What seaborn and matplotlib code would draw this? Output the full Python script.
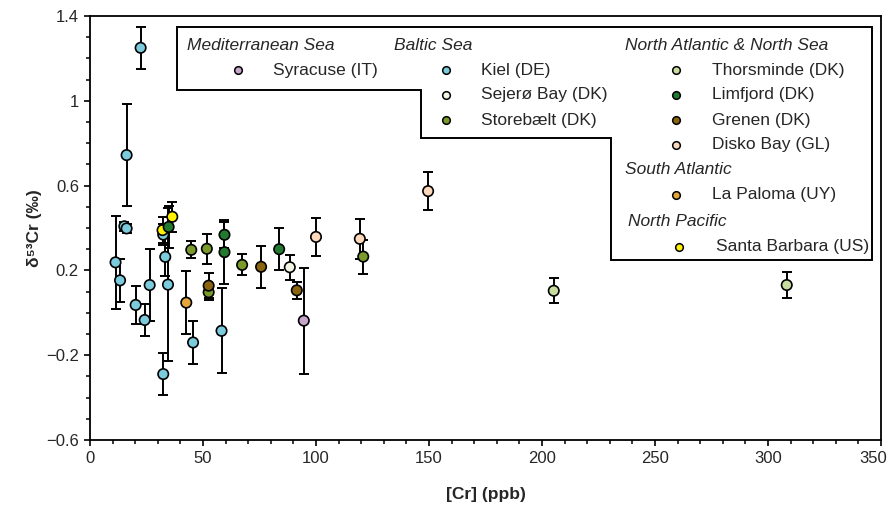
import matplotlib
matplotlib.use("Agg")
import matplotlib.pyplot as plt
from matplotlib.patches import Polygon
from matplotlib.ticker import MultipleLocator, FixedLocator
import matplotlib.transforms as mtransforms
import seaborn as sns
import pandas as pd

# ---------------- data ----------------
site = (["Kiel (DE)"] * 15 + ["Santa Barbara (US)"] * 2 + ["Limfjord (DK)"] * 4 +
        ["La Paloma (UY)"] + ["Storebælt (DK)"] * 5 + ["Grenen (DK)"] * 3 +
        ["Sejerø Bay (DK)"] + ["Syracuse (IT)"] + ["Disko Bay (GL)"] * 3 +
        ["Thorsminde (DK)"] * 2)
cr_ppb = [22.4, 16.2, 15.2, 16.2, 11.3, 13.3, 20.2, 24.2, 26.4, 32.4, 33.3, 34.5, 32.4, 45.6, 58.2,
          32.1, 36.4,
          34.8, 59.5, 59.5, 83.7,
          42.6,
          44.8, 51.7, 52.5, 67.3, 120.9,
          52.5, 75.7, 91.5,
          88.4,
          94.6,
          100.0, 119.4, 149.6,
          205.2, 308.3]
d53cr = [1.25, 0.744, 0.408, 0.398, 0.238, 0.153, 0.037, -0.034, 0.131, 0.369, 0.264, 0.133, -0.289, -0.140, -0.085,
         0.39, 0.453,
         0.405, 0.368, 0.286, 0.30,
         0.048,
         0.297, 0.302, 0.097, 0.226, 0.265,
         0.128, 0.217, 0.106,
         0.215,
         -0.037,
         0.358, 0.349, 0.574,
         0.104, 0.131]
err = [0.10, 0.24, 0.02, 0.02, 0.22, 0.10, 0.09, 0.075, 0.17, 0.05, 0.09, 0.36, 0.10, 0.10, 0.20,
       0.06, 0.07,
       0.10, 0.06, 0.15, 0.10,
       0.15,
       0.04, 0.07, 0.035, 0.05, 0.08,
       0.06, 0.10, 0.04,
       0.06,
       0.25,
       0.09, 0.095, 0.09,
       0.06, 0.06]

site_colors = {
    "Syracuse (IT)": "#c8a6cc",
    "Kiel (DE)": "#7ccbdc",
    "Sejerø Bay (DK)": "#f3f6e2",
    "Storebælt (DK)": "#7a9a2c",
    "Thorsminde (DK)": "#c6dd9f",
    "Limfjord (DK)": "#217a2f",
    "Grenen (DK)": "#8a640e",
    "Disko Bay (GL)": "#fdd8bb",
    "La Paloma (UY)": "#e3a63a",
    "Santa Barbara (US)": "#fff200",
}

legend_groups = [
    ("Mediterranean Sea", ["Syracuse (IT)"]),
    ("Baltic Sea", ["Kiel (DE)", "Sejerø Bay (DK)", "Storebælt (DK)"]),
    ("North Atlantic & North Sea", ["Thorsminde (DK)", "Limfjord (DK)", "Grenen (DK)", "Disko Bay (GL)"]),
    ("South Atlantic", ["La Paloma (UY)"]),
    ("North Pacific", ["Santa Barbara (US)"]),
]

x_ticks = [0, 50, 100, 150, 200, 250, 300, 350]
y_ticks = [-0.6, -0.2, 0.2, 0.6, 1.0, 1.4]
y_tick_labels = ["\u22120.6", "\u22120.2", "0.2", "0.6", "1", "1.4"]

df = pd.DataFrame({"site": site, "cr": cr_ppb, "d53": d53cr, "err": err})

# ---------------- figure ----------------
sns.set_style("ticks")
plt.rcParams["font.family"] = ["Liberation Sans", "DejaVu Sans"]

fig = plt.figure(figsize=(8.9, 5.05), dpi=100)
W, H = 890, 505
L, R, T, B = 90, 881, 16, 440
ax = fig.add_axes([L / W, 1 - B / H, (R - L) / W, (B - T) / H])

ax.errorbar(df["cr"], df["d53"], yerr=df["err"], fmt="none", ecolor="black",
            elinewidth=1.4, capsize=3.3, capthick=1.4, zorder=2)
sns.scatterplot(data=df, x="cr", y="d53", hue="site", palette=site_colors,
                s=56, edgecolor="black", linewidth=1.2, legend=False, zorder=3, ax=ax)

ax.set_xlim(0, 350)
ax.set_ylim(-0.6, 1.4)
ax.xaxis.set_major_locator(FixedLocator(x_ticks))
ax.xaxis.set_minor_locator(MultipleLocator(10))
ax.yaxis.set_major_locator(FixedLocator(y_ticks))
ax.set_yticklabels(y_tick_labels)
ax.yaxis.set_minor_locator(MultipleLocator(0.1))
ax.tick_params(which="major", direction="out", length=4, width=1.2, labelsize=12, color="black",
               pad=4)
ax.tick_params(which="minor", direction="out", length=3, width=1.1, color="black")
for s in ax.spines.values():
    s.set_linewidth(1.3)
    s.set_color("black")

# nudge the last x tick label inside the figure, as in the reference
fig.canvas.draw()
last_lbl = ax.get_xticklabels()[-1]
last_lbl.set_transform(last_lbl.get_transform() +
                       mtransforms.ScaledTranslation(-8 / 100, 0, fig.dpi_scale_trans))

ax.set_xlabel("[Cr] (ppb)", fontsize=12.5, fontweight="bold", labelpad=15)
ax.set_ylabel("δ⁵³Cr (‰)", fontsize=12.5, fontweight="bold", labelpad=3)


def af(px, py):
    return ((px - L) / (R - L), (B - py) / (B - T))


# custom stepped legend box
poly_px = [(177, 27), (872, 27), (872, 260), (611, 260), (611, 138), (421, 138),
           (421, 90), (177, 90)]
ax.add_patch(Polygon([af(*p) for p in poly_px], closed=True, transform=ax.transAxes,
                     facecolor="white", edgecolor="black", linewidth=1.4, zorder=5))

fs = 12.5
header_pos = [(187, 46), (394, 46), (625, 46), (625, 170), (628, 221)]
item_cols = [(238, 273), (446, 481), (676, 712), (676, 712), (679, 716)]
item_rows = [[70], [70, 95, 120], [70, 95, 120, 145], [195], [247]]
for (hdr, items), (hx, hy), (mx, tx), rows in zip(legend_groups, header_pos, item_cols, item_rows):
    ax.text(*af(hx, hy), hdr, transform=ax.transAxes, fontsize=fs, style="italic",
            ha="left", va="center", zorder=6)
    for name, ry in zip(items, rows):
        ax.plot(*af(mx, ry), marker="o", markersize=5.5, markerfacecolor=site_colors[name],
                markeredgecolor="black", markeredgewidth=1.1, transform=ax.transAxes,
                clip_on=False, zorder=6)
        ax.text(*af(tx, ry), name, transform=ax.transAxes, fontsize=fs,
                ha="left", va="center", zorder=6)

fig.savefig("out.png", dpi=100)
